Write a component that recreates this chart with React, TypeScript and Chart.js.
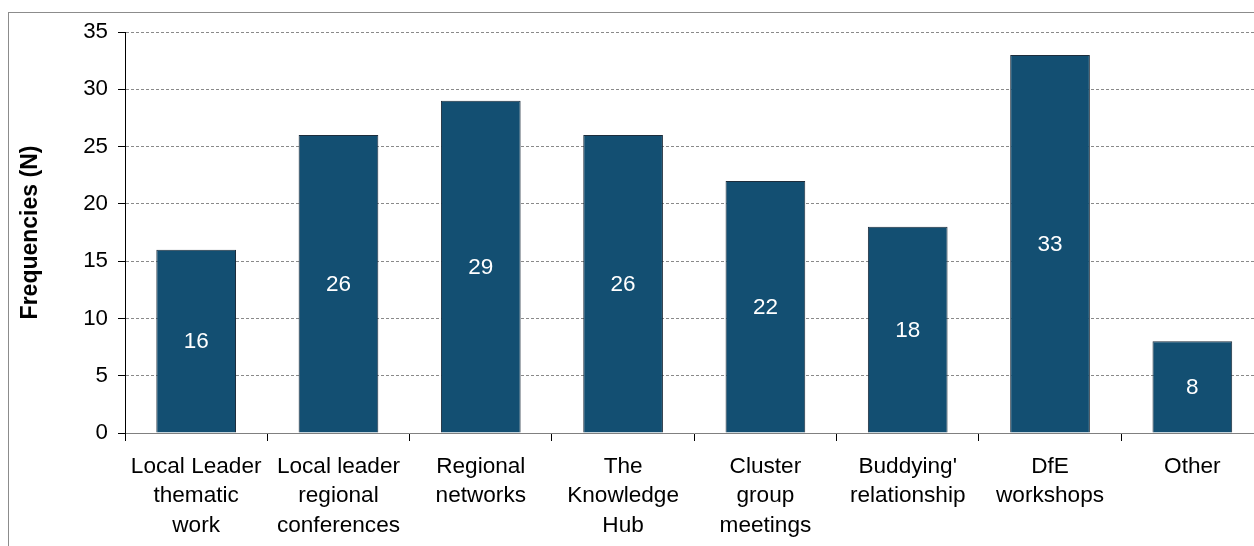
import React, { useEffect, useRef } from "react";
import { Chart, registerables } from "chart.js";

Chart.register(...registerables);

const categories: string[][] = [
  ["Local Leader", "thematic", "work"],
  ["Local leader", "regional", "conferences"],
  ["Regional", "networks"],
  ["The", "Knowledge", "Hub"],
  ["Cluster", "group", "meetings"],
  ["Buddying'", "relationship"],
  ["DfE", "workshops"],
  ["Other"],
];
const frequencies: number[] = [16, 26, 29, 26, 22, 18, 33, 8];
const yTitle = "Frequencies (N)";
const yMin = 0;
const yMax = 35;
const yStep = 5;

const FONT = "'Liberation Sans', Arial, sans-serif";

const barLabels = {
  id: "barLabels",
  afterDatasetsDraw(chart: any) {
    const ctx = chart.ctx;
    const meta = chart.getDatasetMeta(0);
    ctx.save();
    ctx.fillStyle = "#ffffff";
    ctx.font = `22.5px ${FONT}`;
    ctx.textAlign = "center";
    ctx.textBaseline = "middle";
    meta.data.forEach((bar: any, i: number) => {
      const { x, y, base } = bar.getProps(["x", "y", "base"], true);
      ctx.fillText(String(frequencies[i]), x, (y + base) / 2 + 1);
    });
    ctx.restore();
  },
};

export default function App() {
  const ref = useRef<HTMLCanvasElement | null>(null);
  useEffect(() => {
    if (!ref.current) return;
    const chart = new Chart(ref.current, {
      type: "bar",
      data: {
        labels: categories,
        datasets: [
          {
            data: frequencies,
            backgroundColor: "#134f72",
            borderColor: "#1d2d3c",
            borderWidth: 1,
            barPercentage: 0.56,
            categoryPercentage: 1,
          },
        ],
      },
      options: {
        animation: false,
        responsive: false,
        devicePixelRatio: 1,
        layout: { padding: { left: 0, top: 32, right: 36.5, bottom: 0 } },
        plugins: {
          legend: { display: false },
          tooltip: { enabled: false },
          title: { display: false },
        },
        scales: {
          x: {
            afterFit: (s: any) => {
              s.height = 113;
            },
            grid: {
              offset: true,
              drawOnChartArea: false,
              drawTicks: true,
              tickLength: 8,
              tickColor: "#000000",
              tickWidth: 1,
            },
            border: { display: true, color: "#808080", width: 1 },
            ticks: {
              color: "#000000",
              font: { family: FONT, size: 22.6, lineHeight: "29.5px" },
              padding: 11,
              maxRotation: 0,
              minRotation: 0,
              autoSkip: false,
            },
          },
          y: {
            min: yMin,
            max: yMax,
            afterFit: (s: any) => {
              s.width = 125;
            },
            grid: {
              color: "#8a8a8a",
              lineWidth: 1,
              drawTicks: true,
              tickLength: 7,
              tickColor: "#000000",
              tickBorderDash: [],
            },
            border: { display: true, color: "#000000", width: 1, dash: [3, 2] },
            ticks: {
              stepSize: yStep,
              color: "#000000",
              font: { family: FONT, size: 22.3 },
              padding: 10,
            },
            title: {
              display: true,
              text: yTitle,
              color: "#000000",
              font: { family: FONT, size: 23, weight: "bold" },
              padding: { top: 17, bottom: 0 },
            },
          },
        },
      },
      plugins: [barLabels],
    } as any);
    return () => chart.destroy();
  }, []);

  return (
    <div
      style={{
        position: "fixed",
        left: 0,
        top: 0,
        width: 1254,
        height: 546,
        overflow: "hidden",
        background: "#ffffff",
      }}
    >
      <div
        style={{
          position: "absolute",
          left: 8,
          top: 12,
          width: 1400,
          height: 700,
          borderLeft: "1px solid #8c8c8c",
          borderTop: "1px solid #8c8c8c",
        }}
      />
      <canvas
        ref={ref}
        width={1300}
        height={546}
        style={{ position: "absolute", left: 0, top: 0, width: 1300, height: 546 }}
      />
    </div>
  );
}
